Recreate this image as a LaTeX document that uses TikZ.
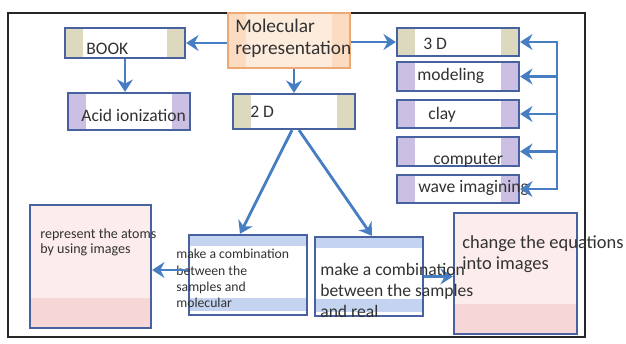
\documentclass[tikz,border=0pt]{standalone}
\usepackage{fontspec}
\setmainfont{Carlito}
\usetikzlibrary{arrows.meta}
\definecolor{boxblue}{RGB}{72,98,160}
\definecolor{arrowblue}{RGB}{70,125,195}
\definecolor{beige}{RGB}{221,217,190}
\definecolor{lavender}{RGB}{203,192,228}
\definecolor{peach}{RGB}{252,220,192}
\definecolor{molorange}{RGB}{238,168,118}
\definecolor{paleblue}{RGB}{196,212,240}
\definecolor{palepink}{RGB}{252,236,236}
\definecolor{pinkband}{RGB}{246,214,214}
\definecolor{textgray}{RGB}{50,50,50}
\tikzset{
  box/.style={draw=boxblue, line width=1.3pt, inner sep=0pt, fill=white},
  side strips/.style={path picture={
    \fill[#1] (path picture bounding box.south west) rectangle ([xshift=0.35cm]path picture bounding box.north west);
    \fill[#1] (path picture bounding box.south east) rectangle ([xshift=-0.35cm]path picture bounding box.north east);}},
  tb strips/.style={path picture={
    \fill[#1] (path picture bounding box.north west) rectangle ([yshift=-0.22cm]path picture bounding box.north east);
    \fill[#1] ([yshift=0.08cm]path picture bounding box.south west) rectangle ([yshift=0.34cm]path picture bounding box.south east);}},
  bottom band/.style={path picture={
    \fill[#1] (path picture bounding box.south west) rectangle ([yshift=0.6cm]path picture bounding box.south east);}},
  txt/.style={font=\fontsize{10}{12}\selectfont, text=textgray, inner sep=0pt},
  small txt/.style={txt, align=left, font=\fontsize{7.8}{9.3}\selectfont},
  arrow/.style={line width=1.6pt, draw=arrowblue, -{Stealth[length=7pt,width=9pt]}},
  link/.style={line width=1.6pt, draw=arrowblue, line cap=rect},
  frame/.style={line width=1.6pt, draw=black!85}
}
\begin{document}
\begin{tikzpicture}[x=0.02cm,y=-0.02cm]
  \useasboundingbox (0,0) rectangle (626,344);
  \draw[frame] (8,13) rectangle (585,337);

  % --- TOP ROW ---
  \node[box, draw=molorange, fill=peach!55!white, side strips=peach, minimum width=2.44cm, minimum height=1.1cm] (mol) at (289,40.5) {};
  \node[txt, font=\fontsize{11}{12.5}\selectfont, align=left, anchor=north west] (t-mol) at (235,19) {Molecular\\representation};
  \node[box, side strips=beige, minimum width=2.4cm, minimum height=0.6cm] (book) at (125,43) {};
  \node[txt, anchor=base west] (t-book) at (86,55) {BOOK};
  \node[box, side strips=lavender, minimum width=2.44cm, minimum height=0.74cm] (acid) at (129,111.5) {};
  \node[txt, anchor=base west] (t-acid) at (81,122) {Acid ionization};
  \node[box, side strips=beige, minimum width=2.44cm, minimum height=0.7cm] (twoD) at (294,111.5) {};
  \node[txt, anchor=base west] (t-twoD) at (250,118) {2 D};

  % --- 3D column ---
  \node[box, side strips=beige, minimum width=2.44cm, minimum height=0.56cm] (threeD) at (458,42) {};
  \node[box, side strips=lavender, minimum width=2.44cm, minimum height=0.58cm] (modeling) at (458,76.5) {};
  \node[box, side strips=lavender, minimum width=2.44cm, minimum height=0.56cm] (clay) at (458,114) {};
  \node[box, side strips=lavender, minimum width=2.44cm, minimum height=0.58cm] (computer) at (458,151.5) {};
  \node[box, side strips=lavender, minimum width=2.44cm, minimum height=0.56cm] (wave) at (458,189) {};
  \node[txt, anchor=base west] (t-threeD) at (423,50) {3 D};
  \node[txt, anchor=base west] (t-modeling) at (417,81) {modeling};
  \node[txt, anchor=base west] (t-clay) at (428,120) {clay};
  \node[txt, anchor=base west] (t-computer) at (433,165) {computer};
  \node[txt, anchor=base west] (t-wave) at (418,193) {wave imagining};

  % --- BOTTOM ROW ---
  \node[box, fill=palepink, bottom band=pinkband, minimum width=2.42cm, minimum height=2.46cm] (atoms) at (90.5,266.5) {};
  \node[small txt, font=\fontsize{8}{8.6}\selectfont, anchor=north west] (t-atoms) at (40,228) {represent the atoms\\by using images};
  \node[box, tb strips=paleblue, minimum width=2.36cm, minimum height=1.6cm] (combA) at (248,275) {};
  \node[small txt, anchor=north west] (t-combA) at (176,249) {make a combination\\between the\\samples and\\molecular};
  \node[box, tb strips=paleblue, minimum width=2.16cm, minimum height=1.58cm] (combB) at (369,276.5) {};
  \node[box, fill=palepink, bottom band=pinkband, minimum width=2.46cm, minimum height=2.42cm] (change) at (515.5,273.5) {};

  % Connections
  \draw[arrow] (mol.west |- book.east) -- (book.east);
  \draw[arrow] (mol.east |- threeD.west) -- (threeD.west);
  \draw[arrow] (twoD.north |- mol.south) -- (twoD.north);
  \draw[arrow] (book.south) -- (book.south |- acid.north);
  \draw[arrow] ([xshift=-0.04cm]twoD.south) -- ([xshift=-0.16cm]combA.north);
  \draw[arrow] ([xshift=0.1cm]twoD.south) -- ([xshift=0.06cm]combB.north);
  \draw[arrow] ([yshift=0.1cm]combA.west) -- ([yshift=0.1cm]combA.west -| atoms.east);
  \draw[arrow] (combB.east) -- (combB.east -| change.west);

  \coordinate (bus) at (557,0);
  \draw[link] (bus |- threeD.east) -- (bus |- wave.east);
  \foreach \b in {threeD,modeling,clay,computer,wave} \draw[arrow] (bus |- \b.east) -- (\b.east);

  % texts lying over the arrows
  \node[txt, align=left, anchor=north west] (t-combB) at (320,263) {make a combination\\between the samples\\and real};
  \node[txt, font=\fontsize{10.5}{12}\selectfont, align=left, anchor=north west] (t-change) at (462,235) {change the equations\\into images};
\end{tikzpicture}
\end{document}
